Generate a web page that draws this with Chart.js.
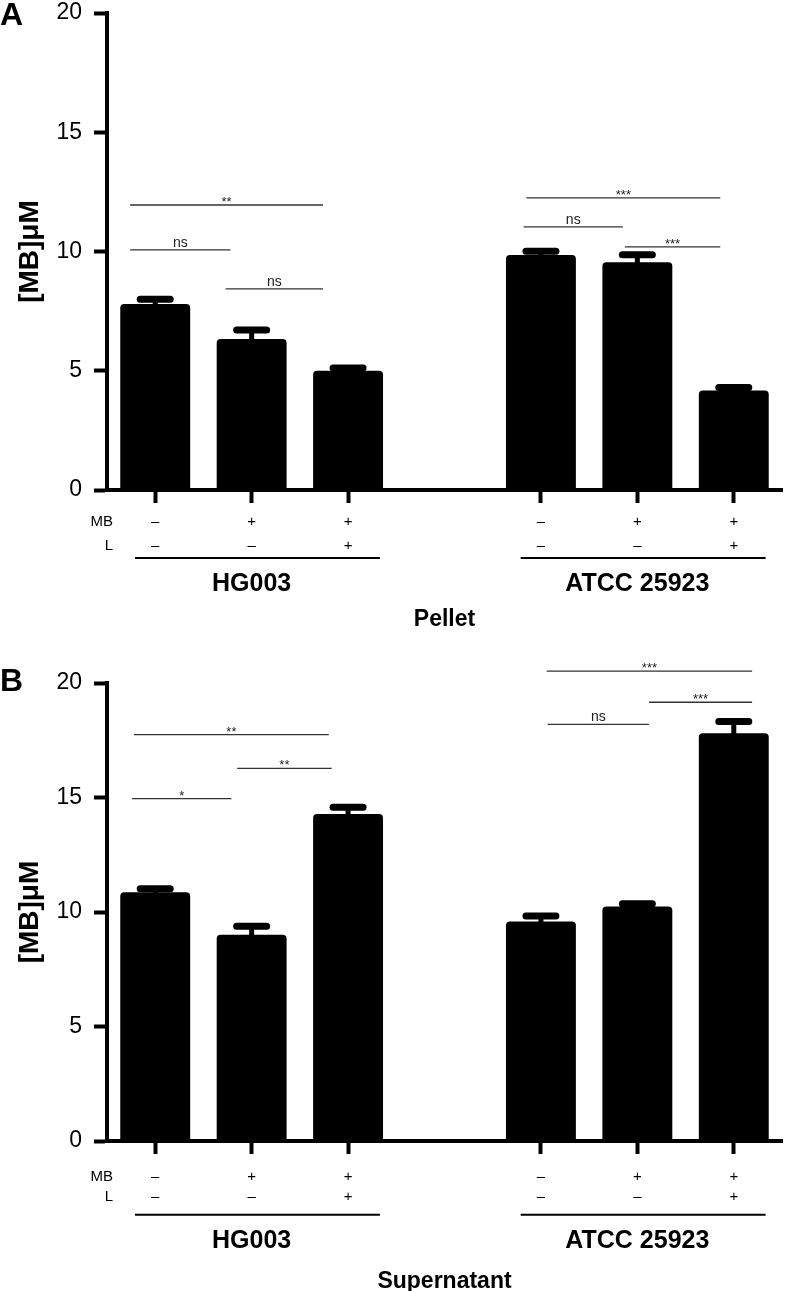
<!DOCTYPE html>
<html>
<head>
<meta charset="utf-8">
<script src="https://cdn.jsdelivr.net/npm/chart.js@4"></script>
<style>
  html, body { margin: 0; padding: 0; background: #fff; }
  #wrap { position: relative; width: 792px; height: 1291px; }
  canvas { position: absolute; left: 0; }
</style>
</head>
<body>
<div id="wrap">
  <canvas id="pellet" width="792" height="650" style="top:0"></canvas>
  <canvas id="super" width="792" height="641" style="top:650px"></canvas>
</div>
<script>
/* Methylene blue uptake, HG003 vs ATCC 25923, pellet (A) and supernatant (B).
   Values. */

// ---- data ----
const mbRow = ["–", "+", "+", "", "–", "+", "+"];
const lRow  = ["–", "–", "+", "", "–", "–", "+"];
const strains = ["HG003", "ATCC 25923"];
const strainSpan = [[0, 2], [4, 6]];

const pelletMean = [7.8, 6.33, 5.0, null, 9.85, 9.55, 4.17];
const pelletErr  = [0.2, 0.38, 0.12, null, 0.16, 0.31, 0.13];
const superMean  = [10.86, 9.01, 14.28, null, 9.58, 10.24, 17.81];
const superErr   = [0.16, 0.37, 0.29, null, 0.24, 0.12, 0.51];

// significance bars: [from, to, level, label]; from/to on the category axis
const pelletSig = [
  [-0.26, 1.74, 11.95, "**"],
  [-0.26, 0.78, 10.07, "ns"],
  [0.73, 1.74, 8.43, "ns"],
  [3.85, 5.86, 12.25, "***"],
  [3.82, 4.85, 11.03, "ns"],
  [4.87, 5.86, 10.19, "***"]
];
const superSig = [
  [-0.22, 1.80, 17.75, "**"],
  [0.85, 1.83, 16.27, "**"],
  [-0.24, 0.79, 14.95, "*"],
  [4.06, 6.19, 20.52, "***"],
  [5.12, 6.19, 19.16, "***"],
  [4.07, 5.12, 18.19, "ns"]
];

const FONT = "'Liberation Sans', Arial, sans-serif";
Chart.defaults.font.family = FONT;
Chart.defaults.color = "#000";

const labels = mbRow.map((m, i) => [m, lRow[i]]);

// draws error bars, significance lines, row names, strain groups and panel letter
function figureExtras(cfg) {
  return {
    id: "extras" + cfg.letter,
    afterDatasetsDraw(chart) {
      const { ctx } = chart;
      const x = chart.scales.x, y = chart.scales.y;
      const meta = chart.getDatasetMeta(0);
      ctx.save();

      // error bars (upper only)
      ctx.strokeStyle = "#000";
      cfg.mean.forEach((m, i) => {
        if (m == null) return;
        const bx = meta.data[i].x;
        const base = y.getPixelForValue(m);
        const top = y.getPixelForValue(m + cfg.err[i]);
        ctx.lineCap = "butt";
        ctx.lineWidth = 5;
        ctx.beginPath(); ctx.moveTo(bx, base + 2); ctx.lineTo(bx, top); ctx.stroke();
        ctx.lineCap = "round";
        ctx.lineWidth = 7;
        ctx.beginPath(); ctx.moveTo(bx - 15, top); ctx.lineTo(bx + 15, top); ctx.stroke();
      });

      // significance lines
      ctx.lineCap = "butt";
      ctx.strokeStyle = "#333";
      ctx.fillStyle = "#222";
      ctx.lineWidth = 1.3;
      ctx.textAlign = "center";
      ctx.textBaseline = "alphabetic";
      cfg.sig.forEach(([a, b, lvl, txt]) => {
        const x0 = x.getPixelForValue(a), x1 = x.getPixelForValue(b);
        const py = y.getPixelForValue(lvl);
        ctx.beginPath(); ctx.moveTo(x0, py); ctx.lineTo(x1, py); ctx.stroke();
        if (txt === "ns") {
          ctx.font = "14px " + FONT;
          ctx.fillText(txt, (x0 + x1) / 2, py - 3);
        } else {
          ctx.font = "13px " + FONT;
          ctx.fillText(txt, (x0 + x1) / 2, py + 1);
        }
      });

      // MB / L row names
      ctx.fillStyle = "#000";
      ctx.font = "15px " + FONT;
      ctx.textAlign = "right";
      ctx.textBaseline = "middle";
      const rowTop = x.top + 13 + cfg.tickPad;
      ctx.fillText("MB", 113, rowTop + cfg.rowH * 0.5);
      ctx.fillText("L", 113, rowTop + cfg.rowH * 1.5);

      // strain group lines and names
      ctx.strokeStyle = "#000";
      ctx.lineWidth = 2;
      ctx.textAlign = "center";
      ctx.font = "bold 25px " + FONT;
      strainSpan.forEach(([a, b], k) => {
        const x0 = x.getPixelForValue(a - 0.21), x1 = x.getPixelForValue(b + 0.33);
        const ly = x.top + cfg.groupLine;
        ctx.beginPath(); ctx.moveTo(x0, ly); ctx.lineTo(x1, ly); ctx.stroke();
        ctx.fillText(strains[k], x.getPixelForValue((a + b) / 2), x.top + cfg.groupText);
      });

      // panel letter
      ctx.textAlign = "left";
      ctx.font = "bold 32px " + FONT;
      ctx.fillText(cfg.letter, 0, cfg.letterY);
      ctx.restore();
    }
  };
}

function makePanel(id, cfg) {
  return new Chart(document.getElementById(id), {
    type: "bar",
    data: {
      labels: labels,
      datasets: [{
        data: cfg.mean,
        backgroundColor: "#000",
        borderRadius: 4,
        barPercentage: 0.725,
        categoryPercentage: 1
      }]
    },
    options: {
      responsive: false,
      animation: false,
      layout: { padding: { top: cfg.padTop, right: 10, left: 0, bottom: 0 } },
      plugins: { legend: { display: false }, tooltip: { enabled: false } },
      scales: {
        x: {
          offset: true,
          grid: {
            offset: false,
            drawOnChartArea: false,
            tickLength: 13,
            tickWidth: 4,
            tickColor: c => (c.index === 3 ? "rgba(0,0,0,0)" : "#000")
          },
          border: { color: "#000", width: 4 },
          ticks: {
            autoSkip: false,
            maxRotation: 0,
            padding: cfg.tickPad,
            font: { size: 15, lineHeight: cfg.rowH / 15 }
          },
          title: {
            display: true,
            text: cfg.title,
            font: { size: 23, weight: "bold", lineHeight: 1 },
            padding: { top: 0, bottom: cfg.titlePad }
          },
          afterFit: s => {
            s.height = cfg.xHeight;
            s.paddingLeft = 0; s.paddingRight = 0;
          }
        },
        y: {
          min: 0,
          max: 20,
          ticks: { stepSize: 5, padding: 12, font: { size: 23 } },
          grid: { drawOnChartArea: false, tickLength: 13, tickWidth: 4, tickColor: "#000" },
          border: { color: "#000", width: 4 },
          title: {
            display: true,
            text: "[MB]μM",
            font: { size: 28, weight: "bold", lineHeight: 1 },
            padding: { top: 16, bottom: 0 }
          },
          afterFit: s => {
            s.width = 107;
            s.paddingTop = 0; s.paddingBottom = 0;
          }
        }
      }
    },
    plugins: [figureExtras(cfg)]
  });
}

makePanel("pellet", {
  letter: "A", letterY: 16, mean: pelletMean, err: pelletErr, sig: pelletSig,
  title: "Pellet", titlePad: 18.5, padTop: 13, xHeight: 160,
  tickPad: 7, rowH: 24, groupLine: 68, groupText: 94.5
});

makePanel("super", {
  letter: "B", letterY: 32, mean: superMean, err: superErr, sig: superSig,
  title: "Supernatant", titlePad: -2, padTop: 33, xHeight: 150,
  tickPad: 12.7, rowH: 20.3, groupLine: 73.7, groupText: 100
});
</script>
</body>
</html>
